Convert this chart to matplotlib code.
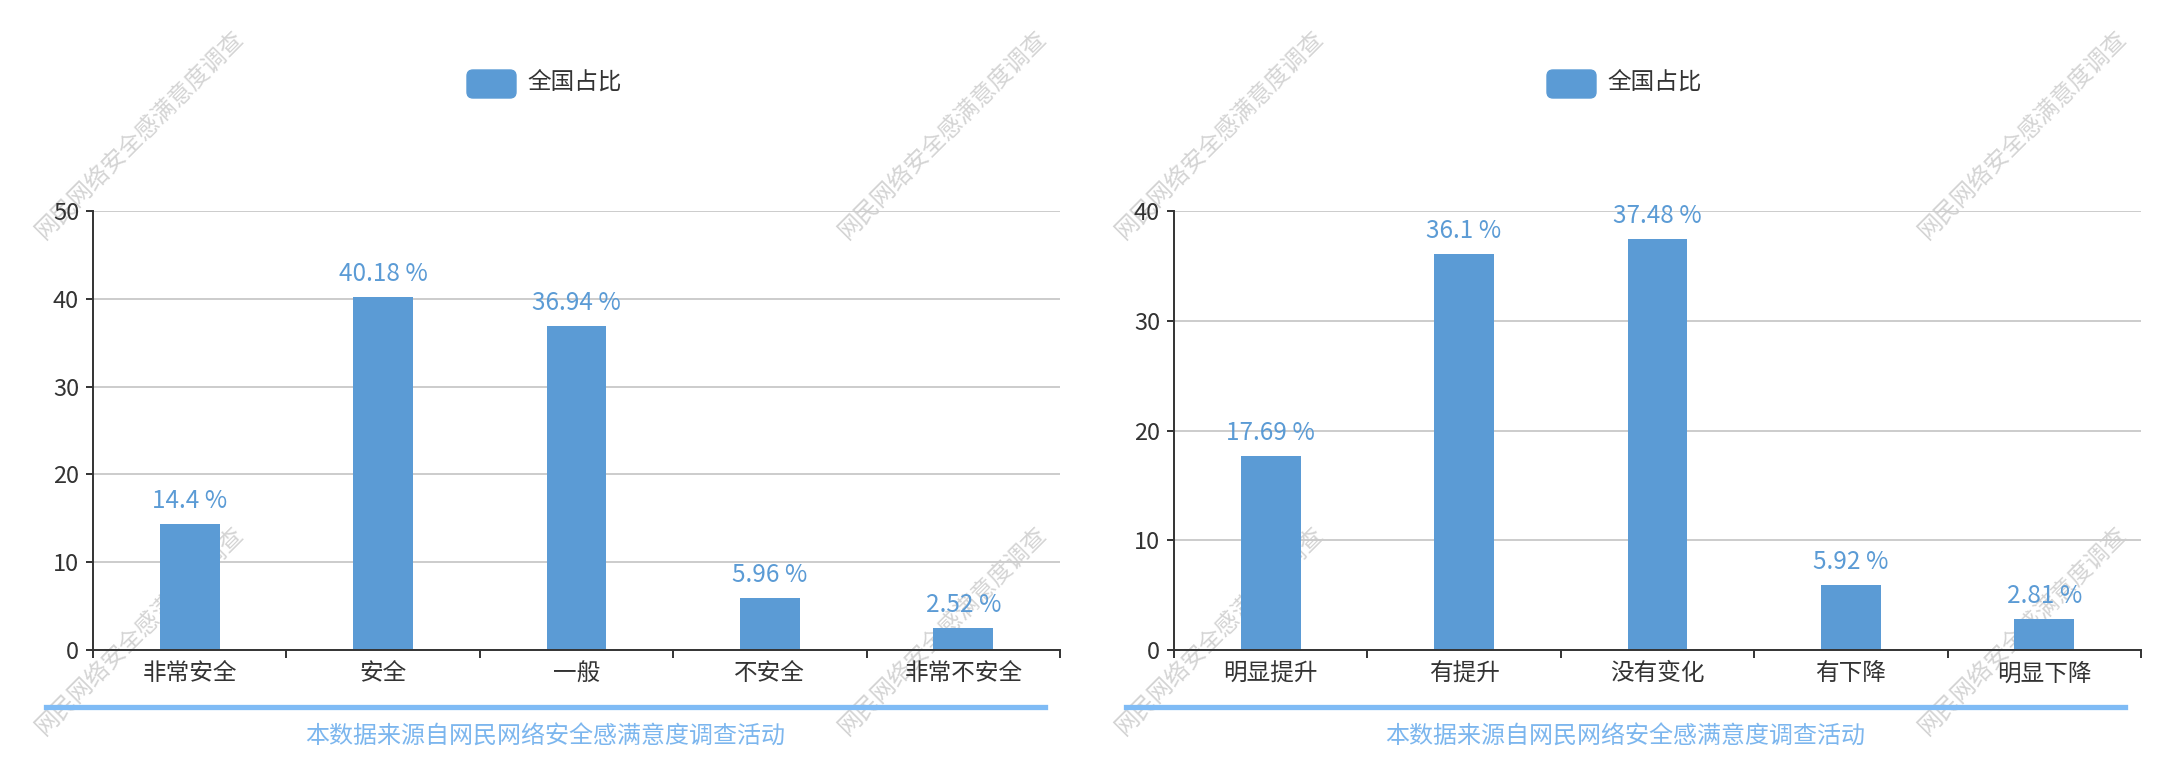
import matplotlib
matplotlib.use('Agg')
import matplotlib.pyplot as plt
from matplotlib.patches import FancyBboxPatch
from matplotlib.lines import Line2D

plt.rcParams['font.family'] = ['Noto Sans CJK SC', 'DejaVu Sans']

# data
cats_left = ['非常安全', '安全', '一般', '不安全', '非常不安全']
vals_left = [14.4, 40.18, 36.94, 5.96, 2.52]
cats_right = ['明显提升', '有提升', '没有变化', '有下降', '明显下降']
vals_right = [17.69, 36.1, 37.48, 5.92, 2.81]
yticks_left = [0, 10, 20, 30, 40, 50]
yticks_right = [0, 10, 20, 30, 40]
legend_name = '全国占比'
footer = '本数据来源自网民网络安全感满意度调查活动'
watermark = '网民网络安全感满意度调查'

bar_color = '#5b9bd5'
dark = '#333333'

fig = plt.figure(figsize=(21.7, 7.8), dpi=100)
W, H = 2170, 780

def px_axes(x0, x1, ytop, ybot):
    return fig.add_axes([x0 / W, (H - ybot) / H, (x1 - x0) / W, (ybot - ytop) / H])

panels = [
    (px_axes(93, 1060, 211, 650), cats_left, vals_left, yticks_left, 0),
    (px_axes(1174, 2141, 211, 650), cats_right, vals_right, yticks_right, 1080),
]

for ax, cats, vals, yt, off in panels:
    x = list(range(len(cats)))
    ax.bar(x, vals, width=0.31, color=bar_color, zorder=3)
    for xi, v in zip(x, vals):
        ax.annotate(f'{v:g} %', (xi, v), xytext=(0, 7), textcoords='offset points',
                    ha='center', va='bottom', fontsize=17.5, color=bar_color, zorder=4)
    ax.set_xlim(-0.5, len(cats) - 0.5)
    ax.set_ylim(yt[0], yt[-1])
    ax.set_yticks(yt)
    ax.set_xticks(x)
    ax.set_xticklabels(cats)
    ax.set_xticks([i - 0.5 for i in range(len(cats) + 1)], minor=True)
    ax.tick_params(axis='x', which='major', length=0, pad=9, labelsize=17, labelcolor=dark)
    ax.tick_params(axis='x', which='minor', length=6, width=1.4, color=dark, direction='out')
    ax.tick_params(axis='y', length=5, width=1.4, color=dark, pad=5, labelsize=17, labelcolor=dark)
    ax.grid(axis='y', color='#cccccc', linewidth=1.4, zorder=0)
    ax.set_axisbelow(True)
    for s in ['top', 'right']:
        ax.spines[s].set_visible(False)
    for s in ['left', 'bottom']:
        ax.spines[s].set_color(dark)
        ax.spines[s].set_linewidth(1.4)
        ax.spines[s].set_zorder(5)
    ax.patch.set_alpha(0)

    # legend
    fig.patches.append(FancyBboxPatch(((467 + off) / 100, (H - 98) / 100), 0.49, 0.28,
                                      boxstyle='round,pad=0,rounding_size=0.06',
                                      transform=fig.dpi_scale_trans, color=bar_color))
    fig.text((527 + off) / 100, (H - 83) / 100, legend_name, transform=fig.dpi_scale_trans,
             fontsize=17, color=dark, va='center', ha='left')

    # footer
    fig.lines.append(Line2D([(46 + off) / 100, (1045 + off) / 100], [(H - 707) / 100] * 2,
                            transform=fig.dpi_scale_trans, color='#7fbbf5', linewidth=3.8))
    fig.text((545 + off) / 100, (H - 737) / 100, footer, transform=fig.dpi_scale_trans,
             fontsize=17.3, color='#7cb6ee', ha='center', va='center')

    # watermarks (behind the bars)
    for cx in (140, 943):
        for cy in (135, 631):
            fig.text((cx + off) / 100, (H - cy) / 100, watermark, transform=fig.dpi_scale_trans,
                     fontsize=17, color='#d4d4d4', rotation=45, ha='center', va='center',
                     rotation_mode='anchor', zorder=-1)

fig.savefig('out.png', dpi=100)
